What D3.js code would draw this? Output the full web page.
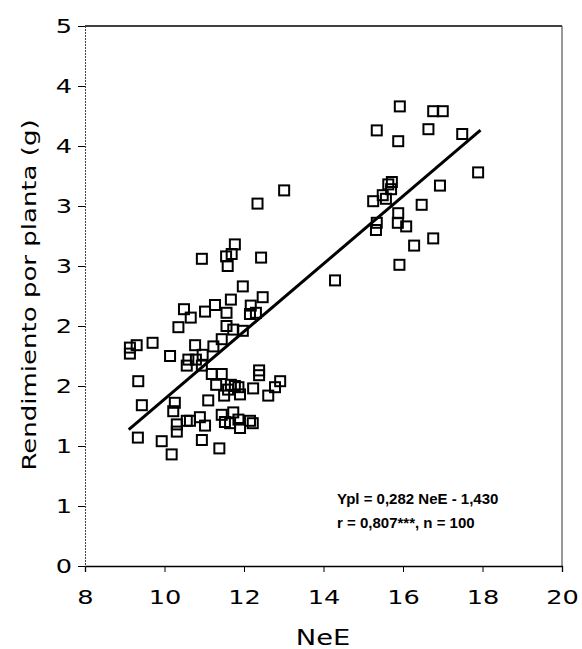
<!DOCTYPE html>
<html><head><meta charset="utf-8">
<script src="https://cdn.jsdelivr.net/npm/d3@7"></script>
<style>
html,body{margin:0;padding:0;background:#fff;}
svg{display:block;}
</style>
</head><body>
<svg id="c" width="582" height="649"></svg>
<script>
// NeE (x) values
const neE = [
 15.92,16.76,17.00,15.34,16.64,17.49,15.88,17.89,16.93,15.72,
 15.63,15.49,15.57,15.25,16.47,15.88,15.34,15.32,15.87,16.08,
 16.76,16.28,15.91,15.70,14.29,
 13.01,12.34,10.94,11.77,11.69,11.55,11.59,12.43,
 11.97,12.47,11.67,12.17,11.27,10.49,11.02,10.66,11.56,12.15,
 12.30,10.35,11.56,11.73,11.97,11.44,11.23,10.77,9.70,9.30,
 9.13,9.13,10.14,10.96,10.79,10.56,10.94,11.19,11.44,12.38,
 12.38,9.34,11.30,11.67,11.77,11.86,11.50,11.90,12.23,12.61,
 12.78,12.91,11.10,9.43,10.26,10.22,11.44,11.73,10.56,10.64,
 10.89,11.52,11.86,12.15,12.22,10.31,10.31,11.02,11.90,11.65,
 9.33,9.93,10.94,11.38,10.18,11.60,10.60
];
// Rendimiento por planta (g) values
const rend = [
 3.83,3.79,3.79,3.63,3.64,3.60,3.54,3.28,3.17,3.20,
 3.18,3.09,3.06,3.04,3.01,2.94,2.86,2.80,2.86,2.83,
 2.73,2.67,2.51,3.14,2.38,
 3.13,3.02,2.56,2.68,2.60,2.58,2.50,2.57,
 2.33,2.24,2.22,2.17,2.175,2.14,2.12,2.07,2.11,2.10,
 2.11,1.99,2.00,1.97,1.96,1.89,1.83,1.84,1.86,1.84,
 1.82,1.77,1.75,1.76,1.72,1.67,1.67,1.60,1.60,1.63,
 1.59,1.54,1.51,1.51,1.50,1.49,1.42,1.43,1.48,1.42,
 1.49,1.54,1.38,1.34,1.36,1.29,1.26,1.28,1.21,1.21,
 1.24,1.20,1.22,1.21,1.19,1.18,1.12,1.17,1.15,1.19,
 1.07,1.04,1.05,0.98,0.93,1.47,1.72
];
const xTicks = [8,10,12,14,16,18,20];
const yTicks = [0,0.5,1,1.5,2,2.5,3,3.5,4,4.5];
const yTickLabels = ["0","1","1","2","2","3","3","4","4","5"];
const slope = 0.282, intercept = -1.430;
const lineX = [9.1, 17.95];
const eqLines = ["Ypl = 0,282 NeE - 1,430", "r = 0,807***, n = 100"];
const xTitle = "NeE";
const yTitle = "Rendimiento por planta (g)";

const svg = d3.select("#c");
const x = d3.scaleLinear().domain([8,20]).range([85,562]);
const y = d3.scaleLinear().domain([0,4.5]).range([566,26]);
const tickFont = "'DejaVu Sans', sans-serif";
const sx = 1.35;

// frame top & right
svg.append("line").attr("x1",x(8)).attr("x2",x(20)).attr("y1",y(4.5)).attr("y2",y(4.5))
  .attr("stroke","#000").attr("stroke-width",1.3);
svg.append("line").attr("x1",x(20)).attr("x2",x(20)).attr("y1",y(4.5)).attr("y2",y(0))
  .attr("stroke","#333").attr("stroke-width",1);

// x axis
const gx = svg.append("g").attr("transform",`translate(0,${y(0)})`)
  .call(d3.axisBottom(x).tickValues(xTicks).tickSize(6).tickFormat(d3.format("d")));
gx.select(".domain").attr("stroke","#000").attr("stroke-width",1.3);
gx.selectAll(".tick line").attr("stroke","#000");
gx.selectAll(".tick text").attr("font-family",tickFont).attr("font-size",19)
  .attr("fill","#000").attr("y",38).attr("dy",0)
  .attr("transform",`scale(${sx},1)`);

// y axis
const gy = svg.append("g").attr("transform",`translate(${x(8)},0)`)
  .call(d3.axisLeft(y).tickValues(yTicks).tickSize(7).tickFormat((d,i)=>yTickLabels[i]));
gy.select(".domain").attr("stroke","#444").attr("stroke-width",1).attr("stroke-dasharray","2,1");
gy.selectAll(".tick line").attr("stroke","#000");
gy.selectAll(".tick text").attr("font-family",tickFont).attr("font-size",19)
  .attr("fill","#000").attr("x",-13/sx).attr("dy","0.36em")
  .attr("transform",`scale(${sx},1)`);

// regression line
svg.append("line")
  .attr("x1",x(lineX[0])).attr("y1",y(slope*lineX[0]+intercept))
  .attr("x2",x(lineX[1])).attr("y2",y(slope*lineX[1]+intercept))
  .attr("stroke","#000").attr("stroke-width",3);

// points
const s = 10;
svg.append("g").selectAll("rect").data(neE.map((v,i)=>[v,rend[i]])).join("rect")
  .attr("x",d=>x(d[0])-s/2).attr("y",d=>y(d[1])-s/2)
  .attr("width",s).attr("height",s)
  .attr("fill","none").attr("stroke","#000").attr("stroke-width",2);

// equation text
svg.append("g").selectAll("text").data(eqLines).join("text")
  .attr("x",337).attr("y",(d,i)=>504+i*24)
  .attr("font-family","'Liberation Sans', Arial, sans-serif")
  .attr("font-weight","bold").attr("font-size",15)
  .attr("fill","#000").text(d=>d);

// axis titles
svg.append("text").attr("transform","translate(323,645) scale(1.3,1)").attr("text-anchor","middle")
  .attr("font-family",tickFont).attr("font-size",21).attr("fill","#000").text(xTitle);
svg.append("text").attr("transform","translate(36,295) rotate(-90) scale(1.3,1)").attr("text-anchor","middle")
  .attr("font-family",tickFont).attr("font-size",20).attr("fill","#000").text(yTitle);
</script>
</body></html>
